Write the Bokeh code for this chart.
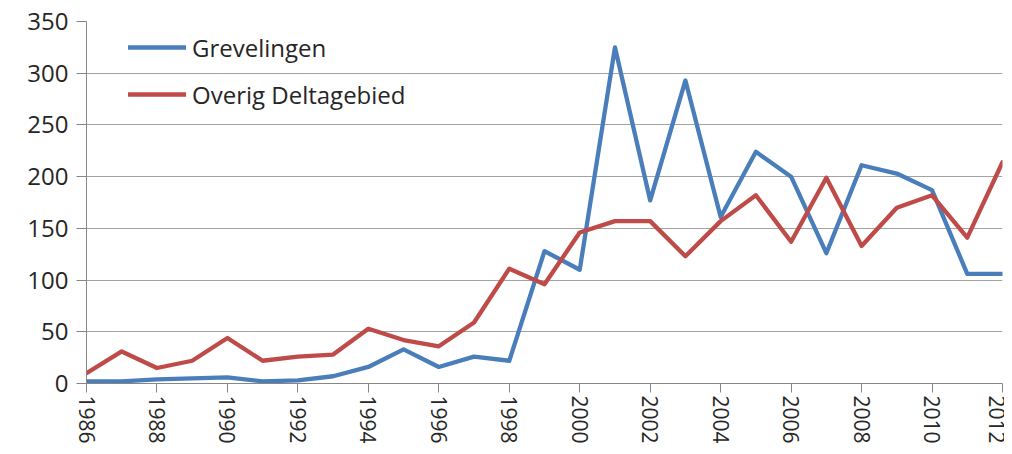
from bokeh.plotting import figure
from bokeh.models import Range1d, FixedTicker, Legend, LegendItem
from bokeh.embed import file_html
from bokeh.resources import INLINE

years = list(range(1986, 2013))
grevelingen = [2, 2, 4, 5, 6, 2, 3, 7, 16, 33, 16, 26, 22,
               128, 110, 325, 177, 293, 161, 224, 200, 126, 211, 203, 187, 106, 106]
overig = [10, 31, 15, 22, 44, 22, 26, 28, 53, 42, 36, 59, 111,
          96, 146, 157, 157, 123, 157, 182, 137, 199, 133, 170, 182, 141, 214]
y_ticks = [0, 50, 100, 150, 200, 250, 300, 350]
x_ticks = list(range(1986, 2013, 2))
names = ["Grevelingen", "Overig Deltagebied"]
colors = ["#4a7ebb", "#be4b48"]

FONT = "Open Sans"
TXT = "#262626"

p = figure(width=1004, height=446, output_backend="svg", toolbar_location=None,
           x_range=Range1d(1986, 2012), y_range=Range1d(0, 350),
           min_border_left=86, min_border_right=2, min_border_top=21, min_border_bottom=63)
p.outline_line_color = None
p.background_fill_color = "white"
p.border_fill_color = "white"

p.xgrid.grid_line_color = None
p.ygrid.grid_line_color = "#a3a3a3"
p.ygrid.grid_line_width = 1
p.yaxis.ticker = FixedTicker(ticks=y_ticks)
p.xaxis.ticker = FixedTicker(ticks=x_ticks)

for ax in (p.xaxis, p.yaxis):
    ax.axis_line_color = "#868686"
    ax.major_tick_line_color = "#868686"
    ax.minor_tick_line_color = None
    ax.major_tick_in = 0
    ax.major_label_text_font = FONT
    ax.major_label_text_color = TXT

p.yaxis.major_tick_out = 10
p.yaxis.major_label_standoff = 8
p.yaxis.major_label_text_font_size = "24px"
p.xaxis.major_tick_out = 9
p.xaxis.major_label_standoff = 3
p.xaxis.major_label_text_font_size = "21px"
p.xaxis.major_label_orientation = "vertical"

r1 = p.line(years, grevelingen, line_color=colors[0], line_width=4.3, line_join="round", line_cap="round")
r2 = p.line(years, overig, line_color=colors[1], line_width=4.3, line_join="round", line_cap="round")

legend = Legend(items=[LegendItem(label=names[0], renderers=[r1]),
                       LegendItem(label=names[1], renderers=[r2])],
                location=(42, 267), padding=0, margin=0, spacing=3,
                glyph_width=58, glyph_height=44, label_standoff=6,
                label_text_font=FONT, label_text_font_size="24px", label_text_color=TXT,
                border_line_color=None, background_fill_alpha=0)
p.add_layout(legend, "center")

open("out.html", "w").write(file_html(p, INLINE))
